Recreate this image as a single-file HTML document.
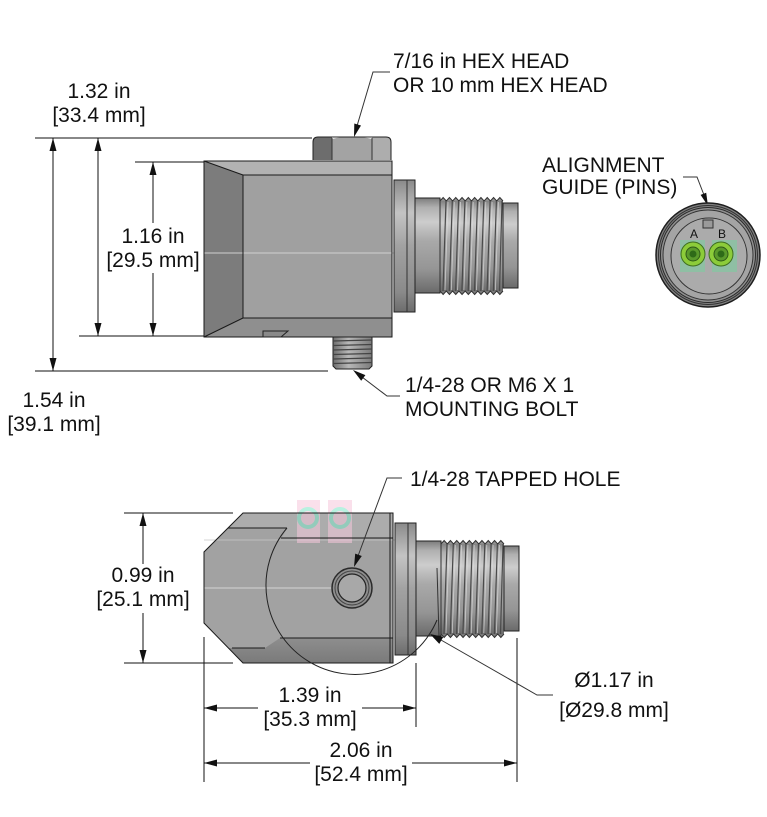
<!DOCTYPE html>
<html><head><meta charset="utf-8"><style>
html,body{margin:0;padding:0;background:#fff;}
svg{display:block;}
text{font-family:"Liberation Sans",Arial,sans-serif;font-size:21px;fill:#111;}
</style></head><body>
<svg width="767" height="817" viewBox="0 0 767 817" xmlns="http://www.w3.org/2000/svg">
<defs>
<linearGradient id="cyl" x1="0" y1="0" x2="0" y2="1">
<stop offset="0" stop-color="#7c7c7c"/><stop offset="0.1" stop-color="#b0b0b0"/><stop offset="0.25" stop-color="#cdcdcd"/><stop offset="0.45" stop-color="#a9a9a9"/><stop offset="0.75" stop-color="#959595"/><stop offset="1" stop-color="#6a6a6a"/>
</linearGradient>
<linearGradient id="fl" x1="0" y1="0" x2="0" y2="1">
<stop offset="0" stop-color="#8a8a8a"/><stop offset="0.25" stop-color="#c4c4c4"/><stop offset="0.5" stop-color="#a2a2a2"/><stop offset="0.85" stop-color="#8a8a8a"/><stop offset="1" stop-color="#6c6c6c"/>
</linearGradient>
<linearGradient id="bolt" x1="0" y1="0" x2="1" y2="0">
<stop offset="0" stop-color="#6e6e6e"/><stop offset="0.4" stop-color="#b8b8b8"/><stop offset="1" stop-color="#7a7a7a"/>
</linearGradient>
<linearGradient id="bot" x1="0" y1="0" x2="0" y2="1">
<stop offset="0" stop-color="#8e8e8e"/><stop offset="1" stop-color="#7a7a7a"/>
</linearGradient>
<g id="conn">
<rect x="394" y="-66" width="21" height="132" fill="url(#fl)" stroke="#222" stroke-width="1"/>
<line x1="407" y1="-66" x2="407" y2="66" stroke="#333" stroke-width="1"/>
<rect x="415" y="-48" width="25" height="95" fill="url(#cyl)" stroke="#222" stroke-width="1"/>
<rect x="440" y="-46" width="63" height="92" fill="url(#cyl)"/>
<polyline points="440,-45 443.15,-48.5 446.3,-45 449.45,-48.5 452.6,-45 455.75,-48.5 458.9,-45 462.05,-48.5 465.2,-45 468.35,-48.5 471.5,-45 474.65,-48.5 477.8,-45 480.95,-48.5 484.1,-45 487.25,-48.5 490.4,-45 493.55,-48.5 496.7,-45 499.85,-48.5 503,-45" fill="#909090" stroke="#333" stroke-width="1"/>
<polyline points="440,45 443.15,48.5 446.3,45 449.45,48.5 452.6,45 455.75,48.5 458.9,45 462.05,48.5 465.2,45 468.35,48.5 471.5,45 474.65,48.5 477.8,45 480.95,48.5 484.1,45 487.25,48.5 490.4,45 493.55,48.5 496.7,45 499.85,48.5 503,45" fill="#7a7a7a" stroke="#333" stroke-width="1"/>
<g stroke="#4a4a4a" stroke-width="1.2">
<line x1="446" y1="-45" x2="443" y2="45"/><line x1="452.3" y1="-45" x2="449.3" y2="45"/><line x1="458.6" y1="-45" x2="455.6" y2="45"/><line x1="464.9" y1="-45" x2="461.9" y2="45"/><line x1="471.2" y1="-45" x2="468.2" y2="45"/><line x1="477.5" y1="-45" x2="474.5" y2="45"/><line x1="483.8" y1="-45" x2="480.8" y2="45"/><line x1="490.1" y1="-45" x2="487.1" y2="45"/><line x1="496.4" y1="-45" x2="493.4" y2="45"/><line x1="502" y1="-45" x2="499.5" y2="45"/>
</g>
<g stroke="#dcdcdc" stroke-width="0.8" opacity="0.8">
<line x1="448" y1="-44" x2="445" y2="44"/><line x1="454.3" y1="-44" x2="451.3" y2="44"/><line x1="460.6" y1="-44" x2="457.6" y2="44"/><line x1="466.9" y1="-44" x2="463.9" y2="44"/><line x1="473.2" y1="-44" x2="470.2" y2="44"/><line x1="479.5" y1="-44" x2="476.5" y2="44"/><line x1="485.8" y1="-44" x2="482.8" y2="44"/><line x1="492.1" y1="-44" x2="489.1" y2="44"/><line x1="498.4" y1="-44" x2="495.4" y2="44"/>
</g>
<line x1="440" y1="-46" x2="440" y2="46" stroke="#333"/>
<rect x="503" y="-43" width="15" height="85" fill="url(#cyl)" stroke="#222" stroke-width="1"/>
</g>
</defs>

<!-- ========== TOP VIEW ========== -->
<g stroke="#111" stroke-width="1">
<line x1="35" y1="138" x2="312" y2="138"/>
<line x1="135" y1="162" x2="204" y2="162"/>
<line x1="79" y1="336" x2="263" y2="336"/>
<line x1="35" y1="371" x2="328" y2="371"/>
<line x1="53" y1="138" x2="53" y2="371"/>
<line x1="98" y1="138" x2="98" y2="336"/>
<line x1="153" y1="162" x2="153" y2="223"/>
<line x1="153" y1="273" x2="153" y2="336"/>
</g>
<g fill="#111">
<polygon points="53,138 49.5,151 56.5,151"/><polygon points="53,371 49.5,358 56.5,358"/>
<polygon points="98,138 94.5,151 101.5,151"/><polygon points="98,336 94.5,323 101.5,323"/>
<polygon points="153,162 149.5,175 156.5,175"/><polygon points="153,336 149.5,323 156.5,323"/>
</g>

<!-- hex nut -->
<path d="M313,160 V142 Q313,137 318,137 H332 V160 Z" fill="#6d6d6d"/>
<path d="M332,160 V139 Q352,134 372,139 V160 Z" fill="#a3a3a3"/>
<path d="M372,160 V137 H386 Q391,137 391,142 V160 Z" fill="#adadad"/>
<path d="M313,160 V142 Q313,137 318,137 H386 Q391,137 391,142 V160" fill="none" stroke="#222" stroke-width="1"/>
<line x1="332" y1="138" x2="332" y2="160" stroke="#333"/>
<line x1="372" y1="138" x2="372" y2="160" stroke="#333"/>

<!-- body -->
<rect x="204" y="161" width="188" height="176" fill="#a3a3a3"/>
<polygon points="204,161 392,161 392,175 243,175" fill="#b2b2b2"/>
<polygon points="204,161 243,175 243,318 204,337" fill="#7c7c7c"/>
<polygon points="204,337 243,318 392,318 392,337" fill="#8f8f8f"/>
<rect x="243" y="175" width="149" height="143" fill="#a0a0a0"/>
<line x1="204" y1="253" x2="395" y2="253" stroke="#cfcfcf" stroke-width="1"/>
<g stroke="#1a1a1a" stroke-width="1" fill="none">
<rect x="204" y="161" width="188" height="176"/>
<line x1="204" y1="161" x2="243" y2="175"/>
<line x1="204" y1="337" x2="243" y2="318"/>
<rect x="243" y="175" width="149" height="143"/>
</g>
<polygon points="263,331 288,331 281,337 263,337" fill="#8a8a8a" stroke="#222" stroke-width="1"/>

<!-- mounting bolt -->
<path d="M333,337 H372 V366 L369,369 H336 L333,366 Z" fill="url(#bolt)" stroke="#222"/>
<g stroke="#444" stroke-width="1.3">
<line x1="333" y1="341" x2="372" y2="340"/><line x1="333" y1="345.5" x2="372" y2="344.5"/><line x1="333" y1="350" x2="372" y2="349"/><line x1="333" y1="354.5" x2="372" y2="353.5"/><line x1="333" y1="359" x2="372" y2="358"/><line x1="333" y1="363.5" x2="372" y2="362.5"/>
</g>

<use href="#conn" transform="translate(0,246)"/>

<text x="99" y="98" text-anchor="middle">1.32 in</text>
<text x="99" y="122" text-anchor="middle">[33.4 mm]</text>
<text x="153" y="243" text-anchor="middle">1.16 in</text>
<text x="153" y="267" text-anchor="middle">[29.5 mm]</text>
<text x="54" y="407" text-anchor="middle">1.54 in</text>
<text x="54" y="431" text-anchor="middle">[39.1 mm]</text>
<text x="393" y="68">7/16 in HEX HEAD</text>
<text x="393" y="92">OR 10 mm HEX HEAD</text>
<text x="405" y="392">1/4-28 OR M6 X 1</text>
<text x="405" y="416">MOUNTING BOLT</text>
<text x="542" y="172">ALIGNMENT</text>
<text x="542" y="194">GUIDE (PINS)</text>

<g stroke="#333" stroke-width="1" fill="none">
<polyline points="390,72 373,72 357,126"/>
<polyline points="400,396 387,396 362,377"/>
<polyline points="683,177 697,177 704,195"/>
</g>
<g fill="#111">
<polygon points="354,137 361,125.5 354.3,123.5"/>
<polygon points="353,370 365.4,375.1 361.2,380.7"/>
<polygon points="708,206 706.2,192.7 700.6,194.9"/>
</g>

<!-- end view -->
<circle cx="708" cy="255" r="52" fill="#808080" stroke="#1e1e1e" stroke-width="1.5"/>
<circle cx="708" cy="255" r="49.5" fill="none" stroke="#333" stroke-width="1"/>
<circle cx="708" cy="255" r="47.5" fill="#909090" stroke="#2a2a2a" stroke-width="1"/>
<circle cx="708" cy="255" r="45" fill="#a4a4a4" stroke="#333" stroke-width="1"/>
<circle cx="709" cy="256" r="38" fill="#ababab" stroke="#333" stroke-width="1"/>
<rect x="703" y="220" width="10" height="8" fill="#9a9a9a" stroke="#333" stroke-width="1"/>
<rect x="680" y="240" width="25" height="32" fill="#8fbfa4"/>
<rect x="712" y="240" width="25" height="32" fill="#8fbfa4"/>
<circle cx="693" cy="254" r="12" fill="#8ccc3a" stroke="#3f6f1f" stroke-width="1"/>
<circle cx="693" cy="254" r="7" fill="#5a9a2c" stroke="#2f5a18" stroke-width="1"/>
<circle cx="693" cy="254" r="3.5" fill="#2e6a18"/>
<circle cx="721" cy="254" r="12" fill="#8ccc3a" stroke="#3f6f1f" stroke-width="1"/>
<circle cx="721" cy="254" r="7" fill="#5a9a2c" stroke="#2f5a18" stroke-width="1"/>
<circle cx="721" cy="254" r="3.5" fill="#2e6a18"/>
<text x="694" y="238" text-anchor="middle" style="font-size:12px">A</text>
<text x="722" y="238" text-anchor="middle" style="font-size:12px">B</text>

<!-- ========== BOTTOM VIEW ========== -->
<g stroke="#111" stroke-width="1">
<line x1="124" y1="513" x2="233" y2="513"/>
<line x1="124" y1="663" x2="233" y2="663"/>
<line x1="143" y1="513" x2="143" y2="564"/>
<line x1="143" y1="613" x2="143" y2="663"/>
<line x1="204" y1="637" x2="204" y2="782"/>
<line x1="416" y1="663" x2="416" y2="727"/>
<line x1="517" y1="638" x2="517" y2="782"/>
<line x1="204" y1="708" x2="258" y2="708"/>
<line x1="362" y1="708" x2="416" y2="708"/>
<line x1="204" y1="763" x2="310" y2="763"/>
<line x1="412" y1="763" x2="517" y2="763"/>
</g>
<g fill="#111">
<polygon points="143,513 139.5,526 146.5,526"/><polygon points="143,663 139.5,650 146.5,650"/>
<polygon points="204,708 217,704.5 217,711.5"/><polygon points="416,708 403,704.5 403,711.5"/>
<polygon points="204,763 217,759.5 217,766.5"/><polygon points="517,763 504,759.5 504,766.5"/>
</g>

<!-- body -->
<polygon points="243,513 393,513 393,663 243,663 204,623 204,552" fill="#a2a2a2"/>
<polygon points="243,513 393,513 393,538 282,538 287,528 228,528" fill="#acacac"/>
<polygon points="280,638 393,638 393,663 243,663 228,648 265,648" fill="url(#bot)"/>
<line x1="204" y1="588" x2="365" y2="588" stroke="#d4d4d4" stroke-width="1"/>
<line x1="204" y1="540" x2="395" y2="540" stroke="#c8c8c8" stroke-width="0.8"/>

<!-- faint pin artifacts (overlay) -->
<g opacity="0.55">
<rect x="297" y="500" width="23" height="43" fill="#f6c8dc"/>
<rect x="328" y="500" width="24" height="43" fill="#f6c8dc"/>
<circle cx="308" cy="518" r="9" fill="none" stroke="#7fe6c8" stroke-width="4"/>
<circle cx="340" cy="518" r="9" fill="none" stroke="#7fe6c8" stroke-width="4"/>
</g>

<g stroke="#1a1a1a" stroke-width="1" fill="none">
<polygon points="243,513 393,513 393,663 243,663 204,623 204,552"/>
<line x1="228" y1="528" x2="287" y2="528"/>
<line x1="281" y1="538" x2="393" y2="538"/>
<line x1="280" y1="638" x2="393" y2="638"/>
<line x1="232" y1="648" x2="265" y2="648"/>
<line x1="390" y1="513" x2="390" y2="663"/>
</g>
<circle cx="352" cy="588" r="20" fill="#8e8e8e" stroke="#2a2a2a" stroke-width="1.5"/>
<circle cx="352" cy="588" r="17" fill="none" stroke="#444" stroke-width="1"/>
<circle cx="352" cy="588" r="14" fill="#a8a8a8" stroke="#222" stroke-width="1.2"/>

<use href="#conn" transform="translate(1,589)"/>
<line x1="437" y1="568" x2="439" y2="636" stroke="#333" stroke-width="1"/>

<path d="M287,528 A89,89 0 1 0 437,620" fill="none" stroke="#222" stroke-width="1"/>

<text x="143" y="582" text-anchor="middle">0.99 in</text>
<text x="143" y="606" text-anchor="middle">[25.1 mm]</text>
<text x="310" y="702" text-anchor="middle">1.39 in</text>
<text x="310" y="726" text-anchor="middle">[35.3 mm]</text>
<text x="361" y="757" text-anchor="middle">2.06 in</text>
<text x="361" y="781" text-anchor="middle">[52.4 mm]</text>
<text x="614" y="687" text-anchor="middle">Ø1.17 in</text>
<text x="614" y="717" text-anchor="middle">[Ø29.8 mm]</text>
<text x="410" y="486">1/4-28 TAPPED HOLE</text>

<g stroke="#333" stroke-width="1" fill="none">
<polyline points="402,478 387,478 358,556"/>
<polyline points="553,695 537,695 441,640"/>
</g>
<g fill="#111">
<polygon points="354,567 361.8,556 355.2,553.6"/>
<polygon points="430,634 443.3,636.9 439.3,643.9"/>
</g>
</svg>
</body></html>
